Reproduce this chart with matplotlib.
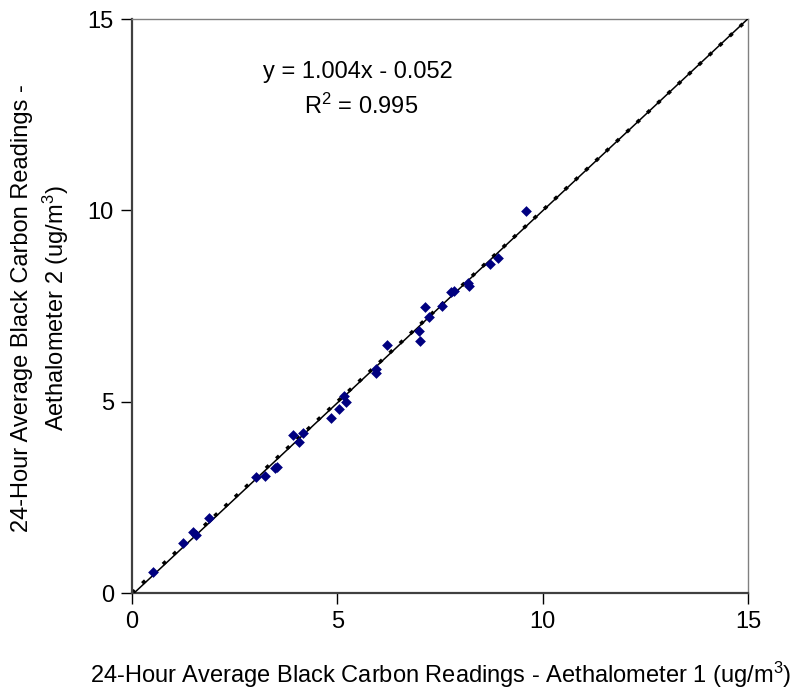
import numpy as np
import matplotlib
matplotlib.use("Agg")
import matplotlib.pyplot as plt

plt.rcParams['font.family'] = ['Liberation Sans', 'DejaVu Sans']
plt.rcParams['mathtext.fontset'] = 'custom'
plt.rcParams['mathtext.rm'] = 'Liberation Sans'
plt.rcParams['mathtext.it'] = 'Liberation Sans'

# Aethalometer 1 vs 2, 24-hour averages (ug/m3)
aeth1 = [0.52, 1.23, 1.49, 1.57, 1.88, 3.03, 3.24, 3.48, 3.54, 3.91, 4.06,
         4.17, 4.84, 5.05, 5.16, 5.22, 5.95, 5.95, 6.20, 6.99, 7.02, 7.13,
         7.23, 7.56, 7.78, 7.83, 8.18, 8.21, 8.71, 8.91, 9.59]
aeth2 = [0.56, 1.30, 1.60, 1.52, 1.95, 3.02, 3.06, 3.26, 3.30, 4.13, 3.94,
         4.19, 4.58, 4.81, 5.16, 5.00, 5.85, 5.74, 6.47, 6.85, 6.59, 7.47,
         7.22, 7.50, 7.86, 7.90, 8.11, 8.03, 8.61, 8.76, 9.97]
slope, intercept = 1.004, -0.052
r2 = 0.995
ticks = [0, 5, 10, 15]

fig = plt.figure(figsize=(8, 6.96), dpi=100)
ax = fig.add_axes([132/800, 1 - 593/696, 616/800, 574/696])

# 1:1 line (dotted) and regression trend line (solid)
line_x = np.array([0, 15])
ax.plot(line_x, line_x, color='black', lw=2.6, ls=(0, (1.1, 2.8)), zorder=2)
ax.plot(line_x, slope * line_x + intercept, color='black', lw=1.1, zorder=3)
ax.scatter(aeth1, aeth2, marker='D', s=30, color='#000080', linewidths=0, zorder=4)

ax.set_xlim(0, 15)
ax.set_ylim(0, 15)
ax.set_xticks(ticks)
ax.set_yticks(ticks)
ax.tick_params(direction='out', length=8, width=1, color='black',
               labelsize=17, pad=5)

for side in ['left', 'bottom']:
    ax.spines[side].set_color('#404040')
    ax.spines[side].set_linewidth(1.6)
for side in ['top', 'right']:
    ax.spines[side].set_color('#808080')
    ax.spines[side].set_linewidth(1.0)

fig.text(358/800, 1 - 72/696, 'y = %.3fx - %.3f' % (slope, -intercept),
         ha='center', va='center', fontsize=17)
fig.text(361/800, 1 - 106/696, 'R$^2$ = %.3f' % r2,
         ha='center', va='center', fontsize=17)

fig.text(441/800, 1 - 675/696,
         '24-Hour Average Black Carbon Readings - Aethalometer 1 (ug/m$^3$)',
         ha='center', va='center', fontsize=17)
fig.text(41/800, 1 - 308/696,
         '24-Hour Average Black Carbon Readings -\nAethalometer 2 (ug/m$^3$)',
         ha='center', va='center', rotation=90, fontsize=17, linespacing=1.35)

fig.savefig('out.png', dpi=100)
